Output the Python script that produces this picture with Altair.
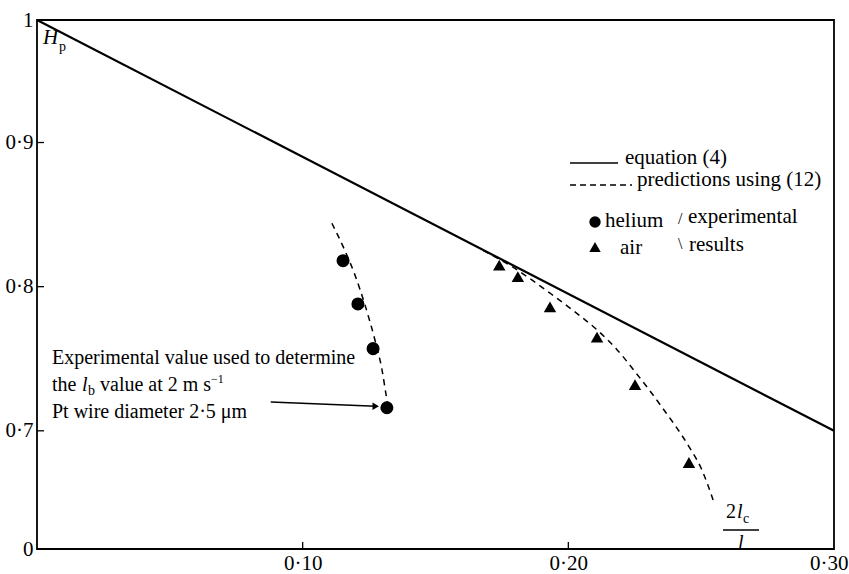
import altair as alt
import pandas as pd

# ---------------- data ----------------
eq_x = [0.0, 0.30]
eq_y = [0.985, 0.70]

helium_x = [0.1152, 0.1208, 0.1265, 0.1317]
helium_y = [0.818, 0.788, 0.757, 0.716]

air_x = [0.174, 0.181, 0.1931, 0.2108, 0.2251, 0.2454]
air_y = [0.815, 0.807, 0.786, 0.765, 0.732, 0.678]

pred_he_x = [0.1110, 0.1159, 0.1197, 0.1235, 0.1272, 0.1299, 0.1314, 0.1325]
pred_he_y = [0.844, 0.825, 0.808, 0.787, 0.763, 0.742, 0.725, 0.714]

pred_air_x = [0.168, 0.178, 0.186, 0.1931, 0.200, 0.2108, 0.218, 0.2251, 0.235, 0.2454, 0.250, 0.2545]
pred_air_y = [0.825, 0.8148, 0.805, 0.7955, 0.786, 0.770, 0.757, 0.741, 0.717, 0.689, 0.674, 0.652]

arrow_x = [0.088, 0.1275]
arrow_y = [0.720, 0.717]

x_ticks = [0.10, 0.20, 0.30]
y_ticks = [0.618, 0.70, 0.80, 0.90, 0.985]
y_inner_ticks = [0.70, 0.80, 0.90]
x_inner_ticks = [0.10, 0.20]

# ---------------- layout ----------------
W, H = 797, 529
FONT = "Liberation Serif"
FS = 20
FL = 21

xs = alt.Scale(domain=[0, 0.30], nice=False, zero=False)
ys = alt.Scale(domain=[0.618, 0.985], nice=False, zero=False)

x_axis = alt.Axis(values=x_ticks, title=None, grid=False, ticks=False, domain=False,
                  labelExpr="replace(format(datum.value, '.2f'), '.', '·')",
                  labelFont=FONT, labelFontSize=FL, labelColor="black", labelPadding=3,
                  labelFlush=True, labelFlushOffset=14)
y_axis = alt.Axis(values=y_ticks, title=None, grid=False, ticks=False, domain=False,
                  labelExpr="datum.value > 0.95 ? '1' : (datum.value < 0.65 ? '0' : replace(format(datum.value, '.1f'), '.', '·'))",
                  labelFont=FONT, labelFontSize=FL, labelColor="black", labelPadding=4)


def line_df(xv, yv):
    return pd.DataFrame({"x": xv, "y": yv, "o": list(range(len(xv)))})


X = alt.X("x:Q", scale=xs, axis=x_axis)
Y = alt.Y("y:Q", scale=ys, axis=y_axis)

eq = alt.Chart(line_df(eq_x, eq_y)).mark_line(color="black", strokeWidth=2.2).encode(x=X, y=Y, order="o:Q")
p_he = alt.Chart(line_df(pred_he_x, pred_he_y)).mark_line(color="black", strokeWidth=1.5, strokeDash=[6, 5], interpolate="monotone").encode(x=X, y=Y, order="o:Q")
p_air = alt.Chart(line_df(pred_air_x, pred_air_y)).mark_line(color="black", strokeWidth=1.5, strokeDash=[6, 5], interpolate="monotone").encode(x=X, y=Y, order="o:Q")
he = alt.Chart(line_df(helium_x, helium_y)).mark_point(shape="circle", filled=True, size=170, color="black", opacity=1).encode(x=X, y=Y)
air = alt.Chart(line_df(air_x, air_y)).mark_point(shape="triangle-up", filled=True, size=155, color="black", opacity=1).encode(x=X, y=Y)

arrow = alt.Chart(line_df(arrow_x, arrow_y)).mark_line(color="black", strokeWidth=1.4).encode(x=X, y=Y, order="o:Q")
arrow_head = alt.Chart(line_df(arrow_x[-1:], arrow_y[-1:])).mark_point(shape="triangle-right", filled=True, size=55, color="black", opacity=1).encode(x=X, y=Y)

xt = alt.Chart(pd.DataFrame({"x": x_inner_ticks})).mark_rule(color="black", strokeWidth=1.3).encode(
    x=alt.X("x:Q", scale=xs, axis=x_axis), y=alt.value(H), y2=alt.value(H - 7))
yt = alt.Chart(pd.DataFrame({"y": y_inner_ticks})).mark_rule(color="black", strokeWidth=1.3).encode(
    y=alt.Y("y:Q", scale=ys, axis=y_axis), x=alt.value(0), x2=alt.value(7))


def txt(s, px, py, size=FS, style="normal", align="left"):
    return alt.Chart(pd.DataFrame({"t": [s]})).mark_text(
        font=FONT, fontSize=size, fontStyle=style, align=align, baseline="middle", color="black"
    ).encode(x=alt.value(px), y=alt.value(py), text="t:N")


def rule(x1, x2, y, dash=None, sw=1.6):
    kw = dict(color="black", strokeWidth=sw)
    if dash:
        kw["strokeDash"] = dash
    return alt.Chart(pd.DataFrame({"a": [0]})).mark_rule(**kw).encode(
        x=alt.value(x1), x2=alt.value(x2), y=alt.value(y))


def sym(shape, px, py, size):
    return alt.Chart(pd.DataFrame({"a": [0]})).mark_point(
        shape=shape, filled=True, size=size, color="black", opacity=1
    ).encode(x=alt.value(px), y=alt.value(py))


texts = [
    # H_p
    txt("H", 6, 18, size=21, style="italic"),
    txt("p", 22, 27, size=14),
    # legend
    rule(533, 581, 143),
    txt("equation (4)", 588, 138, size=FL),
    rule(533, 595, 165, dash=[6, 4], sw=1.4),
    txt("predictions using (12)", 600, 160, size=FL),
    sym("circle", 558, 202, 130),
    txt("helium", 568, 201, size=FL),
    txt("/", 641, 199, size=16),
    txt("experimental", 651, 197, size=FL),
    sym("triangle-up", 558, 227, 130),
    txt("air", 583, 228, size=FL),
    txt("\\", 641, 224, size=16),
    txt("results", 652, 225, size=FL),
    # annotation
    txt("Experimental value used to determine", 15, 338),
    txt("the", 15, 365),
    txt("l", 45, 365, style="italic"),
    txt("b", 51, 371, size=14),
    txt("value at 2 m s", 63, 365),
    txt("−1", 174, 359, size=12),
    txt("Pt wire diameter 2·5 μm", 15, 392),
    # 2l_c / l
    txt("2", 689, 492),
    txt("l", 700, 492, style="italic"),
    txt("c", 706, 499, size=14),
    rule(686, 722, 510, sw=1.4),
    txt("l", 701, 523, style="italic"),
]

chart = alt.layer(eq, p_he, p_air, he, air, arrow, arrow_head, xt, yt, *texts).properties(
    width=W, height=H,
    background="white",
    autosize=alt.AutoSizeParams(type="none"),
    padding={"left": 37, "top": 20, "right": 15, "bottom": 25},
).configure_view(stroke="black", strokeWidth=1.8)

chart.save("out.html", embed_options={"renderer": "svg", "actions": False})
